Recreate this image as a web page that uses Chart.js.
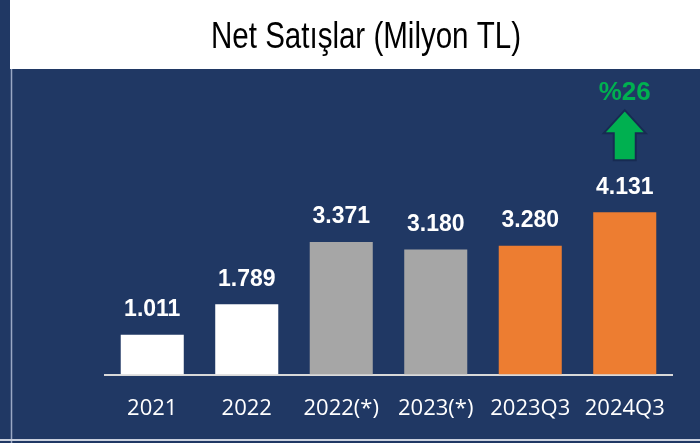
<!DOCTYPE html>
<html>
<head>
<meta charset="utf-8">
<script src="https://cdn.jsdelivr.net/npm/chart.js@4"></script>
<style>
  html, body { margin: 0; padding: 0; background: #203864; }
  #wrap { width: 700px; height: 443px; position: relative; }
</style>
</head>
<body>
<div id="wrap"><canvas id="myChart" width="700" height="443"></canvas></div>
<script>
const titleText = "Net Satışlar (Milyon TL)";
const categories = ["2021", "2022", "2022(*)", "2023(*)", "2023Q3", "2024Q3"];
const netSales = [1011, 1789, 3371, 3180, 3280, 4131];
const valueLabels = ["1.011", "1.789", "3.371", "3.180", "3.280", "4.131"];
const growthLabel = "%26";

const navy = "#203864";
const barColors = ["#ffffff", "#ffffff", "#a6a6a6", "#a6a6a6", "#ed7d31", "#ed7d31"];

// background, title box and frame lines
const framePlugin = {
  id: "frame",
  beforeDraw(chart) {
    const ctx = chart.ctx;
    ctx.save();
    ctx.fillStyle = navy;
    ctx.fillRect(0, 0, 700, 443);
    ctx.fillStyle = "#ffffff";
    ctx.fillRect(10, 0, 690, 69);
    ctx.strokeStyle = "#9aa8c4";
    ctx.lineWidth = 1.5;
    ctx.beginPath();
    ctx.moveTo(11.5, 69);
    ctx.lineTo(11.5, 443);
    ctx.stroke();
    ctx.strokeStyle = "#c9d0de";
    ctx.lineWidth = 2;
    ctx.beginPath();
    ctx.moveTo(0, 440);
    ctx.lineTo(700, 440);
    ctx.stroke();

    // title, squeezed to look like a narrow font
    ctx.fillStyle = "#000000";
    ctx.font = "36px 'Liberation Sans Narrow', 'Liberation Sans', Arial, sans-serif";
    ctx.textBaseline = "middle";
    ctx.textAlign = "center";
    const w = ctx.measureText(titleText).width;
    const sx = 310 / w;
    ctx.translate(366, 38);
    ctx.scale(sx, 1);
    ctx.fillText(titleText, 0, 0);
    ctx.restore();
  }
};

// value labels and growth arrow
const labelPlugin = {
  id: "labels",
  afterDatasetsDraw(chart) {
    const ctx = chart.ctx;
    const bars = chart.getDatasetMeta(0).data;
    ctx.save();
    ctx.fillStyle = "#ffffff";
    ctx.font = "bold 23px 'Liberation Sans', Arial, sans-serif";
    ctx.textAlign = "center";
    ctx.textBaseline = "middle";
    bars.forEach((bar, i) => {
      ctx.fillText(valueLabels[i], bar.x, bar.y - 25);
    });

    const last = bars[bars.length - 1];
    const cx = last.x;
    const top = last.y;
    ctx.beginPath();
    ctx.moveTo(cx, top - 102);
    ctx.lineTo(cx + 21, top - 79);
    ctx.lineTo(cx + 11, top - 79);
    ctx.lineTo(cx + 11, top - 52);
    ctx.lineTo(cx - 11, top - 52);
    ctx.lineTo(cx - 11, top - 79);
    ctx.lineTo(cx - 21, top - 79);
    ctx.closePath();
    ctx.fillStyle = "#00b050";
    ctx.fill();
    ctx.strokeStyle = "#172b52";
    ctx.lineWidth = 2;
    ctx.lineJoin = "miter";
    ctx.stroke();

    ctx.fillStyle = "#00b050";
    ctx.font = "bold 26px 'Liberation Sans', Arial, sans-serif";
    ctx.fillText(growthLabel, cx, top - 119);
    ctx.restore();
  }
};

const ctx = document.getElementById("myChart").getContext("2d");
const myChart = new Chart(ctx, {
  type: "bar",
  data: {
    labels: categories,
    datasets: [
      {
        label: "Net Satışlar",
        data: netSales,
        backgroundColor: barColors,
        borderWidth: 0,
        barPercentage: 0.667,
        categoryPercentage: 1.0,
      },
    ],
  },
  options: {
    responsive: false,
    animation: false,
    layout: {
      padding: { left: 105, right: 28, top: 178, bottom: 0 },
    },
    plugins: {
      legend: { display: false },
      tooltip: { enabled: false },
      title: { display: false },
    },
    scales: {
      y: {
        display: false,
        min: 0,
        max: 5000,
      },
      x: {
        grid: { display: false, drawTicks: false },
        border: { display: true, color: "#d9d9d9", width: 2 },
        ticks: {
          color: "#ffffff",
          padding: 21,
          maxRotation: 0,
          autoSkip: false,
          font: { family: "'Open Sans', sans-serif", size: 22 },
        },
      },
    },
  },
  plugins: [framePlugin, labelPlugin],
});
</script>
</body>
</html>
